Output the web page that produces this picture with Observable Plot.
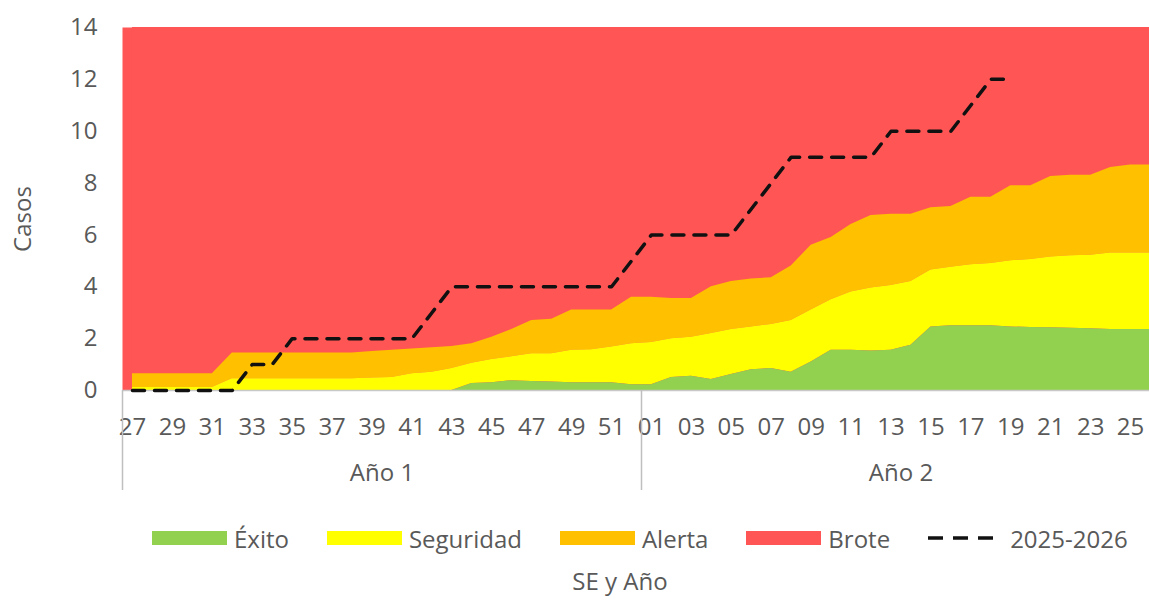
<!DOCTYPE html>
<html>
<head>
<meta charset="utf-8">
<script src="https://cdn.jsdelivr.net/npm/d3@7"></script>
<script src="https://cdn.jsdelivr.net/npm/@observablehq/plot@0.6"></script>
<style>
  html, body { margin: 0; padding: 0; overflow: hidden; background: #fff; width: 1149px; height: 601px; }
  #wrap { position: relative; width: 1149px; height: 601px; overflow: hidden; font-family: "Open Sans", sans-serif; color: #595959; }
  #chart svg { display: block; }
  #legend { position: absolute; left: 152px; top: 522px; height: 32px; display: flex; align-items: center; gap: 38px; font-size: 24px; white-space: nowrap; }
  .item { display: flex; align-items: center; gap: 7px; }
  .sw { display: inline-block; width: 75px; height: 14px; }
  #xtitle { position: absolute; left: 620px; top: 565px; transform: translateX(-50%); font-size: 24px; white-space: nowrap; line-height: 32px; }
</style>
</head>
<body>
<div id="wrap">
  <div id="chart"></div>
  <div id="legend"></div>
  <div id="xtitle">SE y Año</div>
</div>
<script>
// ---- data ----
const weekLabels = ["27","28","29","30","31","32","33","34","35","36","37","38","39","40","41","42","43","44","45","46","47","48","49","50","51","52",
                    "01","02","03","04","05","06","07","08","09","10","11","12","13","14","15","16","17","18","19","20","21","22","23","24","25","26"];
const yearNames = ["Año 1", "Año 2"];
const yearStartLabel = ["27", "01"];
// upper limits of each zone (cases)
const exito = [0,0,0,0,0,0,0,0,0,0,0,0,0,0,0,0,0,
               0.27,0.3,0.38,0.35,0.33,0.3,0.3,0.3,0.22,
               0.22,0.5,0.55,0.42,0.62,0.8,0.85,0.7,1.1,1.55,1.55,1.52,1.55,1.75,2.45,2.5,2.5,2.5,2.45,2.43,2.42,2.4,2.38,2.35,2.35,2.35];
const seguridad = [0.12,0.12,0.12,0.12,0.12,
                   0.45,0.45,0.45,0.45,0.45,0.45,0.45,0.48,0.5,
                   0.65,0.7,0.85,1.05,1.2,1.3,1.42,1.42,1.55,1.57,1.68,1.8,
                   1.85,2.0,2.05,2.2,2.35,2.45,2.55,2.7,3.1,3.5,3.8,3.95,4.05,4.2,4.65,4.75,4.85,4.9,5.0,5.05,5.15,5.2,5.22,5.3,5.3,5.3];
const alerta = [0.65,0.65,0.65,0.65,0.65,
                1.45,1.45,1.45,1.45,1.45,1.45,1.45,1.5,1.55,
                1.6,1.65,1.7,1.8,2.05,2.35,2.7,2.75,3.1,3.1,3.1,3.6,
                3.6,3.55,3.55,4.0,4.2,4.3,4.35,4.8,5.6,5.9,6.4,6.75,6.8,6.8,7.05,7.1,7.45,7.45,7.9,7.9,8.25,8.3,8.3,8.6,8.7,8.7];
const casos = [0,0,0,0,0,0,1,1,2,2,2,2,2,2,2,3,4,4,4,4,4,4,4,4,4,5,
               6,6,6,6,6,7,8,9,9,9,9,9,10,10,10,10,11,12,12,null,null,null,null,null,null,null];
const yTicks = [0,2,4,6,8,10,12,14];
const seriesNames = ["Éxito", "Seguridad", "Alerta", "Brote"];
const seriesColors = ["#92D050", "#FFFF00", "#FFC000", "#FF5555"];
const lineName = "2025-2026";

// ---- build table ----
const rows = weekLabels.map((w, i) => ({i, w, exito: exito[i], seguridad: seguridad[i], alerta: alerta[i], casos: casos[i]}));
const yMax = d3.max(yTicks);
const starts = yearStartLabel.map(l => weekLabels.indexOf(l));
const years = yearNames.map((name, k) => ({name, start: starts[k], end: k + 1 < starts.length ? starts[k + 1] - 1 : weekLabels.length - 1}));
const separators = [...years.map(y => y.start - 0.5), years[years.length - 1].end + 0.5];
const labelTicks = rows.filter(d => d.i % 2 === 0).map(d => d.i);

const chart = Plot.plot({
  width: 1149,
  height: 500,
  marginLeft: 122,
  marginRight: 0,
  marginTop: 27,
  marginBottom: 110,
  style: {fontFamily: "Open Sans, sans-serif", fontSize: "24px", color: "#595959", background: "transparent", overflow: "hidden"},
  x: {type: "linear", domain: [-0.5, weekLabels.length - 0.5], range: [122, 1160]},
  y: {domain: [0, yMax]},
  marks: [
    Plot.frame({fill: seriesColors[3], stroke: "none"}),
    Plot.areaY(rows, {x: "i", y1: "alerta", y2: () => yMax, fill: seriesColors[3]}),
    Plot.areaY(rows, {x: "i", y1: "seguridad", y2: "alerta", fill: seriesColors[2]}),
    Plot.areaY(rows, {x: "i", y1: "exito", y2: "seguridad", fill: seriesColors[1]}),
    Plot.areaY(rows, {x: "i", y1: 0, y2: "exito", fill: seriesColors[0]}),
    Plot.ruleY([0], {stroke: "#c8c8c8", strokeWidth: 1.5}),
    Plot.line(rows.filter(d => d.casos != null), {x: "i", y: "casos", stroke: "#111", strokeWidth: 3.5, strokeDasharray: "12,10"}),
    Plot.axisY(yTicks, {tickSize: 0, tickPadding: 25, fontSize: 24, label: null}),
    Plot.axisX(labelTicks, {tickSize: 0, tickPadding: 27, fontSize: 24, tickFormat: i => weekLabels[i], label: null}),
    Plot.axisX(separators, {tickSize: 100, stroke: "#bfbfbf", strokeWidth: 1.5, tickFormat: () => "", label: null}),
    Plot.text(years, {x: d => (d.start + d.end) / 2, text: "name", frameAnchor: "bottom", lineAnchor: "middle", dy: 83, fontSize: 24, fill: "#595959"}),
    Plot.text(["Casos"], {text: d => d, frameAnchor: "left", textAnchor: "middle", lineAnchor: "middle", rotate: -90, dx: -99, dy: 10, fontSize: 24, fill: "#595959"})
  ]
});
document.getElementById("chart").appendChild(chart);

// ---- legend ----
const legend = document.getElementById("legend");
seriesNames.forEach((name, k) => {
  const it = document.createElement("div");
  it.className = "item";
  it.innerHTML = `<span class="sw" style="background:${seriesColors[k]}"></span><span>${name}</span>`;
  legend.appendChild(it);
});
const li = document.createElement("div");
li.className = "item";
li.style.gap = "16px";
li.innerHTML = `<svg width="66" height="14"><line x1="0" y1="7" x2="66" y2="7" stroke="#111" stroke-width="3.5" stroke-dasharray="15,10"/></svg><span>${lineName}</span>`;
legend.appendChild(li);
</script>
</body>
</html>
